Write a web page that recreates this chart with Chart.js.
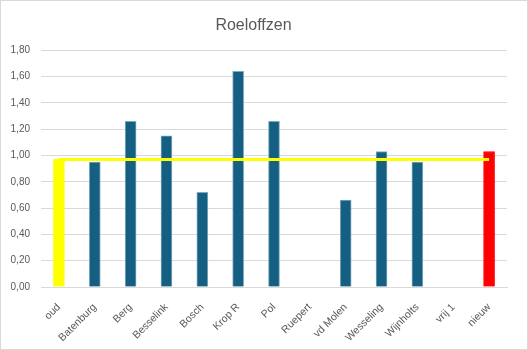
<!DOCTYPE html>
<html><head><meta charset="utf-8">
<script src="https://cdn.jsdelivr.net/npm/chart.js@4/dist/chart.umd.min.js"></script>
<style>html,body{margin:0;padding:0;background:#fff;}#wrap{width:528px;height:350px;position:relative;}</style>
</head><body><div id="wrap"><canvas id="c" width="528" height="350"></canvas></div>
<script>
const categories = ["oud","Batenburg","Berg","Besselink","Bosch","Krop R","Pol","Ruepert","vd Molen","Wesseling","Wijnholts","vrij 1","nieuw"];
const barValues = [0.97,0.95,1.26,1.15,0.72,1.64,1.26,null,0.66,1.03,0.95,null,1.03];
const lineValues = [0.97,0.97,0.97,0.97,0.97,0.97,0.97,0.97,0.97,0.97,0.97,0.97,0.97];
const yTicks = [0,0.2,0.4,0.6,0.8,1.0,1.2,1.4,1.6,1.8];
const title = "Roeloffzen";

const barColors = categories.map((c,i)=> i===0 ? '#FFFF00' : (i===categories.length-1 ? '#FF0000' : '#156082'));
const borderPlugin = {id:'frame', afterDraw(ch){const x=ch.ctx;x.save();x.strokeStyle='#d9d9d9';x.lineWidth=1;x.strokeRect(0.5,0.5,ch.width-1,ch.height-1);x.restore();}};
new Chart(document.getElementById('c'), {
  data: {
    labels: categories,
    datasets: [
      {type:'line', data: lineValues, borderColor:'#FFFF00', borderWidth:3, pointRadius:0, order:0, tension:0},
      {type:'bar', data: barValues, backgroundColor: barColors, borderColor: barColors.map(c=>c==='#156082'?'#7fa9bd':c), borderWidth:{top:1,left:1,right:1,bottom:0}, barThickness:11, order:1}
    ]
  },
  options: {
    responsive:false, animation:false,
    layout:{padding:{left:0,right:21,top:0,bottom:0}},
    plugins:{
      legend:{display:false}, tooltip:{enabled:false},
      title:{display:true, text:title, color:'#595959', font:{family:'Liberation Sans', size:16, weight:'normal'}, padding:{top:16,bottom:15}}
    },
    scales:{
      x:{
        grid:{display:false}, border:{color:'#d9d9d9'},
        ticks:{color:'#595959', font:{family:'Liberation Sans', size:10.5}, maxRotation:45, minRotation:45, autoSkip:false, padding:6},
        afterFit(s){s.height=63;}
      },
      y:{
        min:0, max:1.8,
        afterBuildTicks(s){s.ticks = yTicks.map(v=>({value:v}));},
        grid:{color:'#d9d9d9', drawTicks:false}, border:{display:false},
        ticks:{color:'#595959', font:{family:'Liberation Sans', size:10}, padding:11, callback:(v)=>Number(v).toFixed(2).replace('.',',')},
        afterFit(s){s.width=41;}
      }
    }
  },
  plugins:[borderPlugin]
});
</script></body></html>
